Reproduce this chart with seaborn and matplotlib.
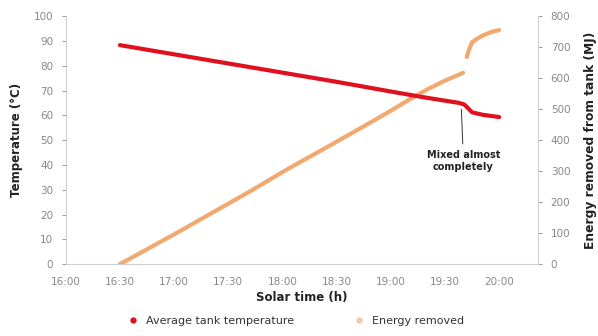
import numpy as np
import pandas as pd
import seaborn as sns
import matplotlib.pyplot as plt
from matplotlib.ticker import FuncFormatter

# solar time in hours (decimal)
temp_time = [16.5, 17.0, 17.5, 18.0, 18.5, 19.0, 19.3, 19.63, 19.68, 19.72, 19.75, 19.85, 20.0]
temp_vals = [88.3, 84.6, 80.9, 77.2, 73.5, 69.6, 67.3, 65.0, 64.3, 62.5, 61.2, 60.2, 59.3]

energy_time = [16.5, 16.667, 16.833, 17.0, 17.167, 17.333, 17.5, 17.667, 17.833, 18.0,
               18.167, 18.333, 18.5, 18.667, 18.833, 19.0, 19.167, 19.333, 19.5, 19.667]
energy_vals = [0, 32, 64, 96, 129, 162, 195, 228, 262, 297,
               330, 362, 395, 428, 461, 495, 530, 563, 592, 617]
energy_time2 = [19.7, 19.72, 19.75, 19.8, 19.85, 19.9, 19.95, 20.0]
energy_vals2 = [668, 690, 716, 728, 738, 745, 751, 755]

sns.set_theme(style="white")
plt.rcParams['font.family'] = ['DejaVu Sans']

fig = plt.figure(figsize=(5.98, 3.36), dpi=100)
ax = fig.add_axes([0.110, 0.214, 0.790, 0.738])
ax2 = ax.twinx()

orange = "#f0a060"
red = "#e0101e"
df_e = pd.DataFrame({"t": energy_time, "e": energy_vals})
df_e2 = pd.DataFrame({"t": energy_time2, "e": energy_vals2})
sns.lineplot(data=df_e, x="t", y="e", ax=ax2, color=orange, lw=3.0, alpha=0.9)
sns.lineplot(data=df_e2, x="t", y="e", ax=ax2, color=orange, lw=3.0, alpha=0.9)

df_t = pd.DataFrame({"t": temp_time, "T": temp_vals})
ax.set_zorder(ax2.get_zorder() + 1)
ax.patch.set_visible(False)
sns.lineplot(data=df_t, x="t", y="T", ax=ax, color=red, lw=3.0)

ax.set_xlim(16.0, 20.36)
ax.set_ylim(0, 100)
ax2.set_ylim(0, 800)
ax.set_xticks(np.arange(16.0, 20.01, 0.5))
ax.xaxis.set_major_formatter(FuncFormatter(lambda v, p: f"{int(v)}:{int(round((v % 1) * 60)):02d}"))
ax.set_yticks(range(0, 101, 10))
ax2.set_yticks(range(0, 801, 100))

for a in (ax, ax2):
    for s in a.spines.values():
        s.set_visible(False)
    a.tick_params(colors="#888888", labelsize=7.5, length=3, width=0.6)
ax.spines['left'].set_visible(True)
ax.spines['bottom'].set_visible(True)
ax2.spines['right'].set_visible(True)
for s in (ax.spines['left'], ax.spines['bottom'], ax2.spines['right']):
    s.set_color("#d0d0d0")
    s.set_linewidth(0.8)
ax.tick_params(axis='x', pad=6)
ax.tick_params(axis='y', pad=6)
ax2.tick_params(axis='y', pad=6)

ax.set_xlabel("Solar time (h)", fontsize=8.5, fontweight="bold", color="#222222", labelpad=3)
ax.set_ylabel("Temperature (°C)", fontsize=8.5, fontweight="bold", color="#222222", labelpad=8)
ax2.set_ylabel("Energy removed from tank (MJ)", fontsize=8.8, fontweight="bold", color="#222222", labelpad=10)

ax.annotate("Mixed almost\ncompletely", xy=(19.65, 63.5), xytext=(19.67, 46),
            ha="center", va="top", fontsize=7, fontweight="bold", color="#222222",
            arrowprops=dict(arrowstyle="-", color="#333333", lw=0.7))

fig.legend(handles=[
    plt.Line2D([], [], marker='o', ls='', color=red, markersize=3.5),
    plt.Line2D([], [], marker='o', ls='', color=orange, markersize=3.5, alpha=0.5)],
    labels=["Average tank temperature", "Energy removed"],
    loc="lower center", bbox_to_anchor=(0.49, 0.0), ncol=2, frameon=False,
    fontsize=8, handletextpad=0.2, columnspacing=4.8, labelcolor="#333333")

fig.savefig("out.png", dpi=100)
